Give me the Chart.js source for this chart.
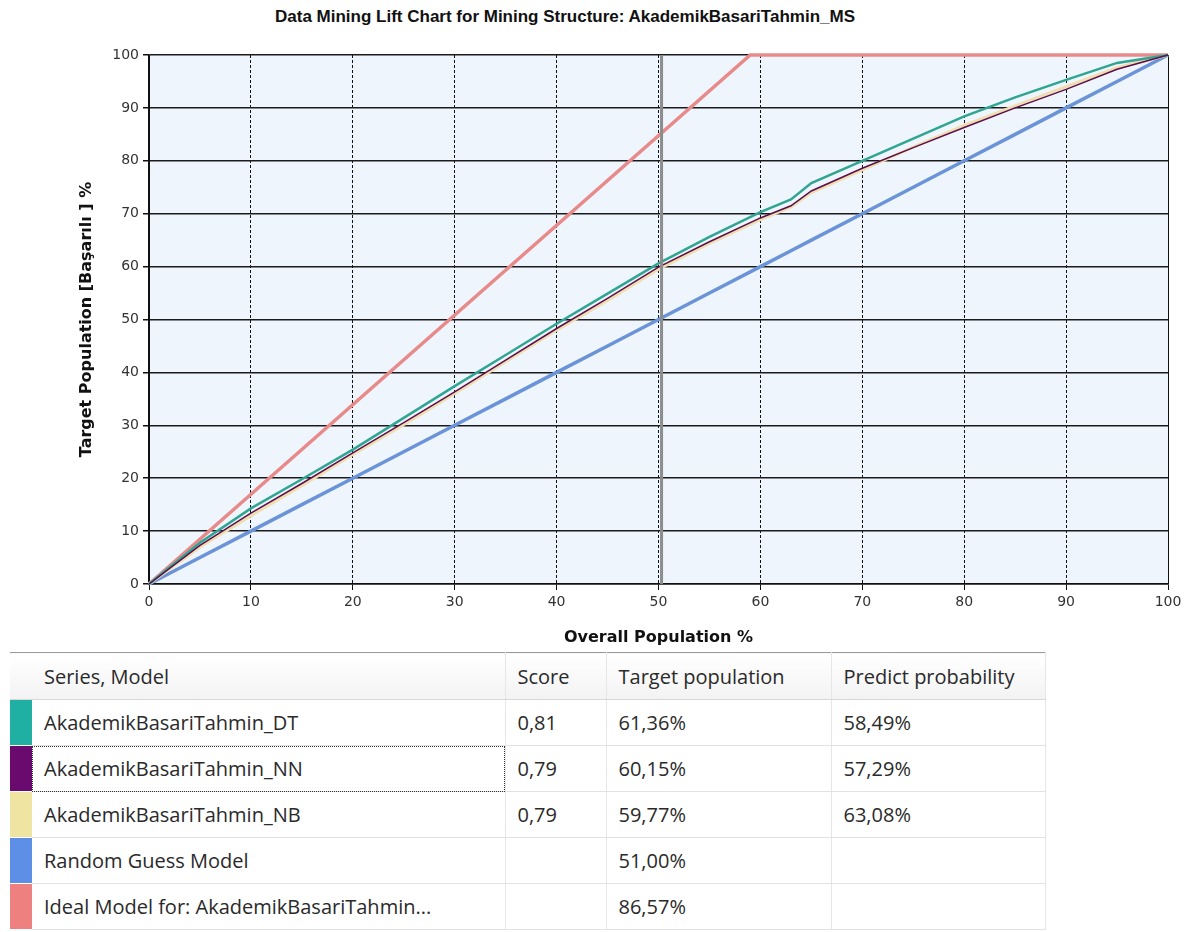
<!DOCTYPE html>
<html>
<head>
<meta charset="utf-8">
<script src="https://cdn.jsdelivr.net/npm/chart.js@4.4.1/dist/chart.umd.min.js"></script>
<style>
  body { margin: 0; background: #fff; width: 1197px; height: 932px; position: relative; overflow: hidden; }
  #title { position: absolute; top: 7px; left: 0; width: 1130px; text-align: center;
    font: bold 17px "Liberation Sans", Arial, sans-serif; color: #111; }
  #chartBox { position: absolute; top: 0; left: 0; width: 1197px; height: 650px; }
  #legendTable { position: absolute; top: 652px; left: 10px; width: 1035px; border-collapse: collapse;
    font: 20px "Open Sans", "Noto Sans", sans-serif; color: #2a2a2a; table-layout: fixed; }
  #legendTable th, #legendTable td { text-align: left; font-weight: normal; padding: 0 0 0 12px;
    border-right: 1px solid #e6e6e6; border-bottom: 1px solid #e2e2e2; white-space: nowrap; overflow: hidden; }
  #legendTable th { height: 46px; border-top: 1px solid #9a9a9a; border-bottom: 1px solid #d8d8d8;
    background: linear-gradient(#ffffff, #f3f3f3); }
  #legendTable td { height: 45px; }
  #legendTable td.swatch { padding: 0; border-right: none; border-bottom: 1px solid #fff; }
  #legendTable td.focus { outline: 1px dotted #333; outline-offset: -1px; }
</style>
</head>
<body>
<div id="title">Data Mining Lift Chart for Mining Structure: AkademikBasariTahmin_MS</div>
<div id="chartBox"><canvas id="liftChart"></canvas></div>
<table id="legendTable">
  <colgroup>
    <col style="width:22px"><col style="width:473px"><col style="width:101px"><col style="width:225px"><col style="width:214px">
  </colgroup>
  <thead><tr><th style="border-right:none"></th><th>Series, Model</th><th>Score</th><th>Target population</th><th>Predict probability</th></tr></thead>
  <tbody id="legendBody"></tbody>
</table>
<script>
// overall population % (x) and target population % (y)
const popPct = [0, 5, 10, 15, 20, 25, 30, 35, 40, 45, 50, 55, 60, 63, 65, 70, 75, 80, 85, 90, 95, 100]
const dtValues = [0, 7.8, 14.3, 19.8, 25.4, 31.4, 37.4, 43.3, 49.2, 54.9, 60.6, 65.6, 70.3, 72.7, 75.8, 80.0, 84.2, 88.4, 92.0, 95.3, 98.5, 100]
const nnValues = [0, 7.3, 13.4, 19.0, 24.8, 30.5, 36.3, 42.3, 48.3, 54.0, 59.9, 64.7, 69.2, 71.5, 74.3, 78.6, 82.5, 86.3, 90.0, 93.5, 97.3, 100]
const nbValues = [0, 7.0, 12.9, 18.6, 24.5, 30.1, 36.0, 42.0, 48.0, 53.6, 59.5, 64.4, 68.9, 71.3, 74.0, 78.3, 82.6, 86.7, 90.4, 94.0, 97.6, 100]
const randomValues = [0, 5, 10, 15, 20, 25, 30, 35, 40, 45, 50, 55, 60, 63, 65, 70, 75, 80, 85, 90, 95, 100]
const idealPop = [0, 59, 100]
const idealValues = [0, 100, 100]
const cursorPop = [50.3, 50.3]
const cursorValues = [0, 100]

// legend table
const seriesNames = ['AkademikBasariTahmin_DT', 'AkademikBasariTahmin_NN', 'AkademikBasariTahmin_NB', 'Random Guess Model', 'Ideal Model for: AkademikBasariTahmin...']
const seriesScores = ['0,81', '0,79', '0,79', '', '']
const targetPopulation = ['61,36%', '60,15%', '59,77%', '51,00%', '86,57%']
const predictProbability = ['58,49%', '57,29%', '63,08%', '', '']

const swatchColors = ['#1fb0a3', '#6a0a6e', '#f0e4a2', '#5d8fe6', '#ef8080']
const lineColors = ['#2fa592', '#5c0d4c', '#f0ddb0', '#6a93d8', '#e88a8a']

let body = document.querySelector('#legendBody')
for(let i = 0; i < seriesNames.length; i++){
    let tr = document.createElement('tr')
    tr.innerHTML = `
        <td class="swatch" style="background:${swatchColors[i]}"></td>
        <td class="${i === 1 ? 'focus' : ''}">${seriesNames[i]}</td>
        <td>${seriesScores[i]}</td>
        <td>${targetPopulation[i]}</td>
        <td>${predictProbability[i]}</td>
    `
    body.append(tr)
}

function toPoints(xs, ys){
    return xs.map((x, i) => ({x: x, y: ys[i]}))
}

const plotBackground = {
    id: 'plotBackground',
    beforeDraw(chart){
        const {ctx, chartArea: a} = chart
        ctx.save()
        ctx.fillStyle = '#eef5fd'
        ctx.fillRect(a.left, a.top, a.right - a.left, a.bottom - a.top)
        ctx.restore()
    }
}

const tickFont = {family: '"DejaVu Sans", Verdana, sans-serif', size: 14}
const titleFont = {family: '"DejaVu Sans", Verdana, sans-serif', size: 16, weight: 'bold'}

new Chart(document.getElementById('liftChart'), {
    type: 'line',
    data: {
        datasets: [
            {label: 'cursor', data: toPoints(cursorPop, cursorValues), borderColor: '#8c8c8c', borderWidth: 3, order: 0},
            {label: 'AkademikBasariTahmin_NN', data: toPoints(popPct, nnValues), borderColor: lineColors[1], borderWidth: 1.5, order: 1},
            {label: 'AkademikBasariTahmin_DT', data: toPoints(popPct, dtValues), borderColor: lineColors[0], borderWidth: 2.5, order: 2},
            {label: 'AkademikBasariTahmin_NB', data: toPoints(popPct, nbValues), borderColor: lineColors[2], borderWidth: 3, order: 3},
            {label: 'Random Guess Model', data: toPoints(popPct, randomValues), borderColor: lineColors[3], borderWidth: 3.5, order: 4},
            {label: 'Ideal Model', data: toPoints(idealPop, idealValues), borderColor: lineColors[4], borderWidth: 3.5, order: 5}
        ]
    },
    options: {
        responsive: true,
        maintainAspectRatio: false,
        animation: false,
        layout: {padding: {left: 0, right: 29, top: 55, bottom: 0}},
        elements: {point: {radius: 0}, line: {tension: 0}},
        datasets: {line: {clip: 6}},
        plugins: {legend: {display: false}, tooltip: {enabled: false}},
        scales: {
            x: {
                type: 'linear', min: 0, max: 100,
                afterFit: s => { s.height = 66 },
                ticks: {stepSize: 10, color: '#333', font: tickFont, padding: 4, maxRotation: 0},
                grid: {color: '#111', lineWidth: 1, tickLength: 6, tickColor: '#111'},
                border: {display: true, color: '#111', width: 1.5,
                    dash: c => (c.tick && (c.tick.value === 0 || c.tick.value === 100)) ? [] : [3, 2]},
                title: {display: true, text: 'Overall Population %', color: '#111', font: titleFont, padding: {top: 0, bottom: 3}}
            },
            y: {
                min: 0, max: 100,
                afterFit: s => { s.width = 149 },
                ticks: {stepSize: 10, color: '#333', font: tickFont, padding: 4},
                grid: {color: '#1a1a1a', lineWidth: 1.5, tickLength: 6, tickColor: '#111'},
                border: {display: true, color: '#111', width: 1.5},
                title: {display: true, text: 'Target Population [Başarılı ] %', color: '#111', font: titleFont, padding: {top: 77, bottom: 0}}
            }
        }
    },
    plugins: [plotBackground]
})
</script>
</body>
</html>
